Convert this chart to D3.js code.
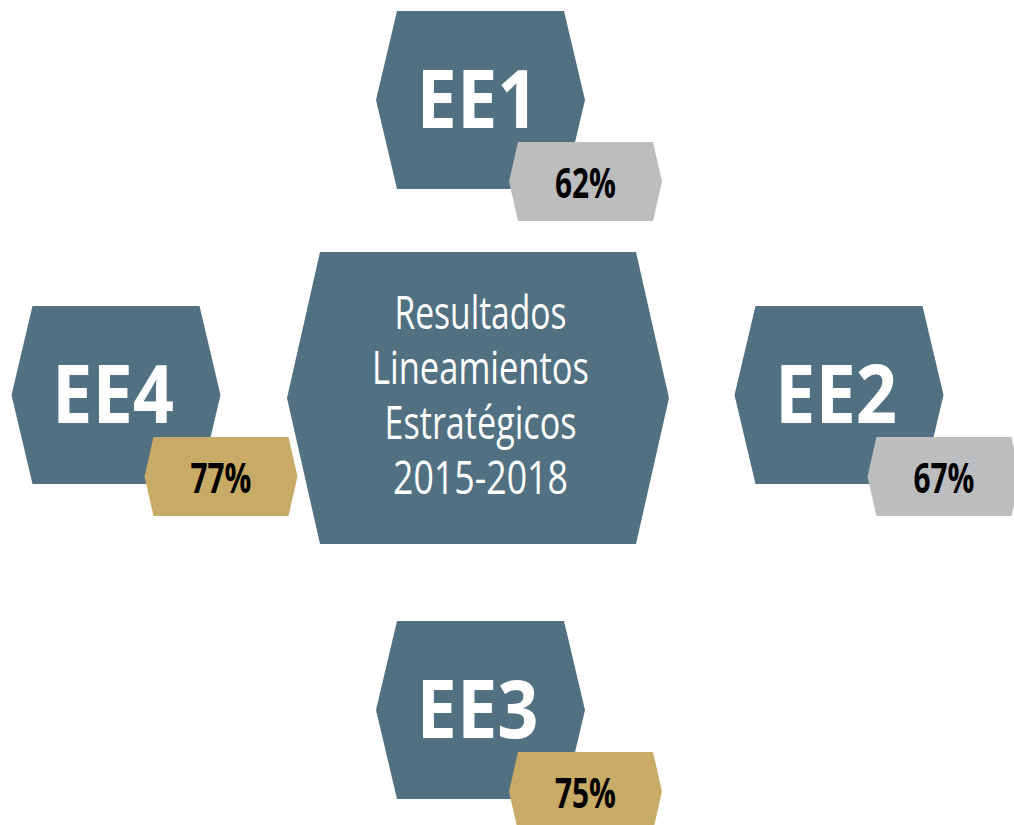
<!DOCTYPE html>
<html>
<head>
<meta charset="utf-8">
<script src="https://cdn.jsdelivr.net/npm/d3@7"></script>
<style>
  html, body { margin: 0; padding: 0; background: #ffffff; }
  svg { display: block; }
</style>
</head>
<body>
<svg id="chart" width="1014" height="825"></svg>
<script>
// ---- data ----
const categories = ["EE1", "EE2", "EE3", "EE4"];
const values = [62, 67, 75, 77];
const placements = ["top", "right", "bottom", "left"];
const centerLines = ["Resultados", "Lineamientos", "Estratégicos", "2015-2018"];
const threshold = [70];

// ---- layout ----
const W = 1014, H = 825;
const svg = d3.select("#chart");

const colX = d3.scaleOrdinal().domain(["left", "center", "right"]).range([116, 480.5, 839]);
const rowY = d3.scaleOrdinal().domain(["top", "middle", "bottom"]).range([100, 395, 710]);
const placeGrid = {
  top: ["center", "top"], right: ["right", "middle"],
  bottom: ["center", "bottom"], left: ["left", "middle"]
};

const badgeColor = d3.scaleThreshold().domain(threshold).range(["#bcbdbf", "#c8ab66"]);
const hexColor = "#517182";

const line = d3.line();
function hexPath(cx, cy, w, h, inset) {
  const hw = w / 2, hh = h / 2;
  return line([
    [cx - hw, cy], [cx - hw + inset, cy - hh], [cx + hw - inset, cy - hh],
    [cx + hw, cy], [cx + hw - inset, cy + hh], [cx - hw + inset, cy + hh]
  ]) + "Z";
}

// center hexagon
const ccx = colX("center") - 2.5, ccy = rowY("middle") + 3;
svg.append("path")
  .attr("d", hexPath(ccx, ccy, 382, 292, 33))
  .attr("fill", hexColor);

const centerWidths = [172, 217, 192, 175];
const lineGap = 55;
const firstBaseline = ccy - 69;
svg.append("g").selectAll("text")
  .data(centerLines)
  .join("text")
  .attr("x", ccx + 2.5)
  .attr("y", (d, i) => firstBaseline + i * lineGap)
  .attr("text-anchor", "middle")
  .attr("font-family", "'Liberation Sans Narrow', 'Open Sans', sans-serif")
  .attr("font-size", 45)
  .attr("fill", "#ffffff")
  .attr("textLength", (d, i) => centerWidths[i])
  .attr("lengthAdjust", "spacingAndGlyphs")
  .text(d => d);

// nodes
const nodes = categories.map((c, i) => {
  const [col, row] = placeGrid[placements[i]];
  return { name: c, value: values[i], cx: colX(col), cy: rowY(row) };
});

const g = svg.append("g").selectAll("g.node")
  .data(nodes)
  .join("g")
  .attr("class", "node");

g.append("path")
  .attr("d", d => hexPath(d.cx, d.cy, 209, 178, 21))
  .attr("fill", hexColor);

g.append("text")
  .attr("x", d => d.cx - 3)
  .attr("y", d => d.cy + 28)
  .attr("text-anchor", "middle")
  .attr("font-family", "'Open Sans', 'DejaVu Sans', sans-serif")
  .attr("font-weight", "bold")
  .attr("font-size", 81)
  .attr("fill", "#ffffff")
  .attr("textLength", 122)
  .attr("lengthAdjust", "spacingAndGlyphs")
  .text(d => d.name);

g.append("path")
  .attr("d", d => hexPath(d.cx + 105, d.cy + 81.5, 153, 79, 9))
  .attr("fill", d => badgeColor(d.value));

g.append("text")
  .attr("x", d => d.cx + 105)
  .attr("y", d => d.cy + 98)
  .attr("text-anchor", "middle")
  .attr("font-family", "'Liberation Sans Narrow', 'Open Sans', sans-serif")
  .attr("font-weight", "bold")
  .attr("font-size", 42)
  .attr("fill", "#000000")
  .attr("textLength", 61)
  .attr("lengthAdjust", "spacingAndGlyphs")
  .text(d => d.value + "%");
</script>
</body>
</html>
